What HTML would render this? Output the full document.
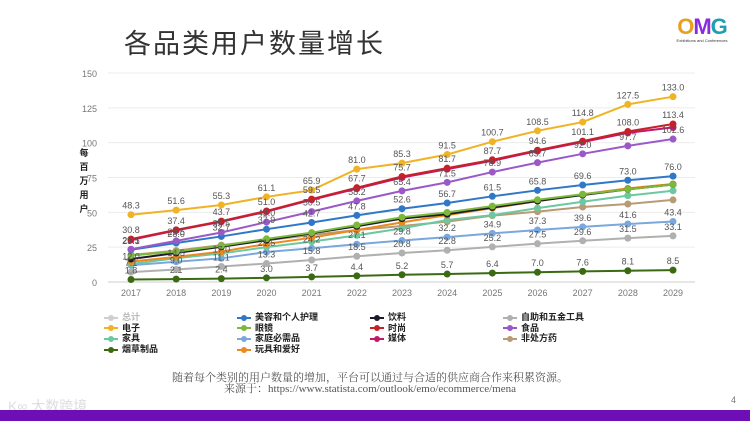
<!DOCTYPE html>
<html><head><meta charset="utf-8">
<style>
body{margin:0;width:750px;height:421px;overflow:hidden;background:#fff;font-family:"Liberation Sans","Noto Sans CJK SC",sans-serif;position:relative}
.abs{position:absolute}
</style></head><body>
<div class="abs" style="left:124px;top:22px;font-size:27px;color:#333;font-family:'Liberation Sans','Noto Sans CJK SC',sans-serif;letter-spacing:2px">各品类用户数量增长</div>
<div class="abs" style="left:668px;top:16px;width:68px;text-align:center">
<div style="font-size:22px;font-weight:bold;line-height:22px;letter-spacing:-1px"><span style="color:#e8a020">O</span><span style="color:#8a2be2">M</span><span style="color:#1aa0b0">G</span></div>
<div style="font-size:4px;color:#333">Exhibitions and Conferences</div></div>
<svg class="abs" style="left:0;top:0" width="750" height="421">
<g id="grid"></g><g id="series"></g><g id="labels"></g>
</svg>
<div class="abs" style="left:78px;top:146px;width:12px;font-size:9px;font-weight:bold;color:#222;line-height:14px;text-align:center">每<br>百<br>万<br>用<br>户</div>
<div class="abs" id="legend" style="left:0;top:0"></div>
<div class="abs" style="left:120px;top:373px;width:500px;text-align:center;font-family:'Liberation Serif','Noto Serif CJK SC',serif;font-size:11px;color:#555;line-height:11px">随着每个类别的用户数量的增加，平台可以通过与合适的供应商合作来积累资源。<br>来源于：https://www.statista.com/outlook/emo/ecommerce/mena</div>
<div class="abs" style="left:8px;top:396px;font-size:14px;color:#ddd">K∞ 大数跨境</div>
<div class="abs" style="left:731px;top:395px;font-size:9px;color:#777">4</div>
<div class="abs" style="left:0;top:410px;width:750px;height:11px;background:#6d0fb4"></div>
<script>
const years=[2017,2018,2019,2020,2021,2022,2023,2024,2025,2026,2027,2028,2029];
const yTicks=[0,25,50,75,100,125,150];
const names=["总计","美容和个人护理","饮料","自助和五金工具","电子","眼镜","时尚","食品","家具","家庭必需品","媒体","非处方药","烟草制品","玩具和爱好"];
const colors=["#cfcfcf","#2f78c8","#1a1a2a","#b0b0b0","#f0b323","#7cb83a","#c8202a","#9b59c8","#6cc8a0","#7aa8dc","#c0186a","#b89a74","#3a6a12","#ec8a20"];
const sElectronics=[48.3,51.6,55.3,61.1,65.9,81.0,85.3,91.5,100.7,108.5,114.8,127.5,133.0];
const sFashion=[30.8,37.4,43.7,51.0,59.5,67.7,75.7,81.7,87.7,94.6,101.1,108.0,113.4];
const sMedia=[30.2,37.0,43.2,50.5,59.0,67.0,75.0,81.0,87.0,94.0,100.5,107.0,111.0];
const sFood=[23.5,29.5,35.5,43.0,50.5,58.2,65.4,71.5,78.9,85.7,92.0,97.7,102.6];
const sBeauty=[23.1,28.0,32.7,37.9,42.7,47.8,52.6,56.7,61.5,65.8,69.6,73.0,76.0];
const sEyewear=[19.0,21.8,26.0,31.0,35.4,40.9,46.5,50.0,54.5,59.0,63.0,66.5,70.0];
const sBeverage=[16.5,20.8,25.3,30.0,35.0,40.0,45.5,48.7,53.5,58.1,62.4,66.5,70.0];
const sToys=[14.6,18.0,21.8,27.3,31.8,37.3,42.8,48.0,53.0,58.0,63.0,67.2,70.3];
const sFurniture=[13.0,17.0,20.5,25.0,29.0,33.5,38.5,44.5,48.0,53.0,57.6,62.0,65.5];
const sOTC=[19.4,22.5,26.5,30.0,33.7,37.3,40.2,43.3,47.6,50.5,53.8,56.0,58.9];
const sHousehold=[12.0,14.5,17.0,21.5,24.2,27.1,29.8,32.2,34.9,37.3,39.6,41.6,43.4];
const sDIY=[7.1,9.0,11.1,13.3,15.8,18.5,20.8,22.8,25.2,27.5,29.6,31.5,33.1];
const sTobacco=[1.8,2.1,2.4,3.0,3.7,4.4,5.2,5.7,6.4,7.0,7.6,8.1,8.5];
const X0=131,X1=673,Y0=282,Y1=73;
const xs=i=>X0+(X1-X0)*i/(years.length-1);
const ys=v=>Y0-(Y0-Y1)*v/150;
const NS="http://www.w3.org/2000/svg";
function mk(tag,at,p){const e=document.createElementNS(NS,tag);for(const k in at)e.setAttribute(k,at[k]);p.appendChild(e);return e;}
const grid=document.getElementById('grid'),ser=document.getElementById('series'),lab=document.getElementById('labels');
yTicks.forEach(t=>{
 const l=mk('line',{x1:108,x2:695,y1:ys(t),y2:ys(t),stroke:t==0?'#ccc':'#ececec','stroke-width':1},grid);
 
 
 const tx=mk('text',{x:97,y:ys(t)+4,'text-anchor':'end','font-size':9,fill:'#777'},grid);tx.textContent=t;
 
 
});
years.forEach((y,i)=>{const tx=mk('text',{x:xs(i),y:296,'text-anchor':'middle','font-size':9,fill:'#777'},grid);tx.textContent=y;
 
 });
const order=[[sDIY,3],[sHousehold,9],[sOTC,11],[sFurniture,8],[sToys,13],[sBeverage,2],[sEyewear,5],[sBeauty,1],[sFood,7],[sMedia,10],[sFashion,6],[sElectronics,4],[sTobacco,12]];
order.forEach(([d,ci])=>{
 const p=mk('polyline',{points:d.map((v,i)=>xs(i)+','+ys(v)).join(' '),fill:'none',stroke:colors[ci],'stroke-width':2},ser);
 
 
 d.forEach((v,i)=>{const c=mk('circle',{cx:xs(i),cy:ys(v),r:3.5,fill:colors[ci]},ser);
  
  });
});
[sElectronics,sFashion,sFood,sBeauty,sHousehold,sDIY,sTobacco].forEach(d=>{
 d.forEach((v,i)=>{const t=mk('text',{x:xs(i),y:ys(v)-6,'text-anchor':'middle','font-size':9,fill:'#555'},lab);t.textContent=v.toFixed(1);
  
  });
});
const leg=document.getElementById('legend');
const colX=[104,237,370,503];
names.forEach((n,i)=>{
 const d=document.createElement('div');
 
 
 d.style.cssText=`position:absolute;left:${colX[i%4]}px;top:${312+Math.floor(i/4)*10.7}px;font-size:9px;font-weight:bold;color:${i==0?'#bbb':'#222'};white-space:nowrap;line-height:11px`;
 d.innerHTML=`<span style="display:inline-block;position:relative;width:14px;height:8px;vertical-align:middle;margin-right:4px"><span style="position:absolute;left:0;top:3px;width:14px;height:2px;background:${colors[i]}"></span><span style="position:absolute;left:4px;top:1px;width:6px;height:6px;border-radius:3px;background:${colors[i]}"></span></span>${n}`;
 leg.appendChild(d);
});
</script>
</body></html>
